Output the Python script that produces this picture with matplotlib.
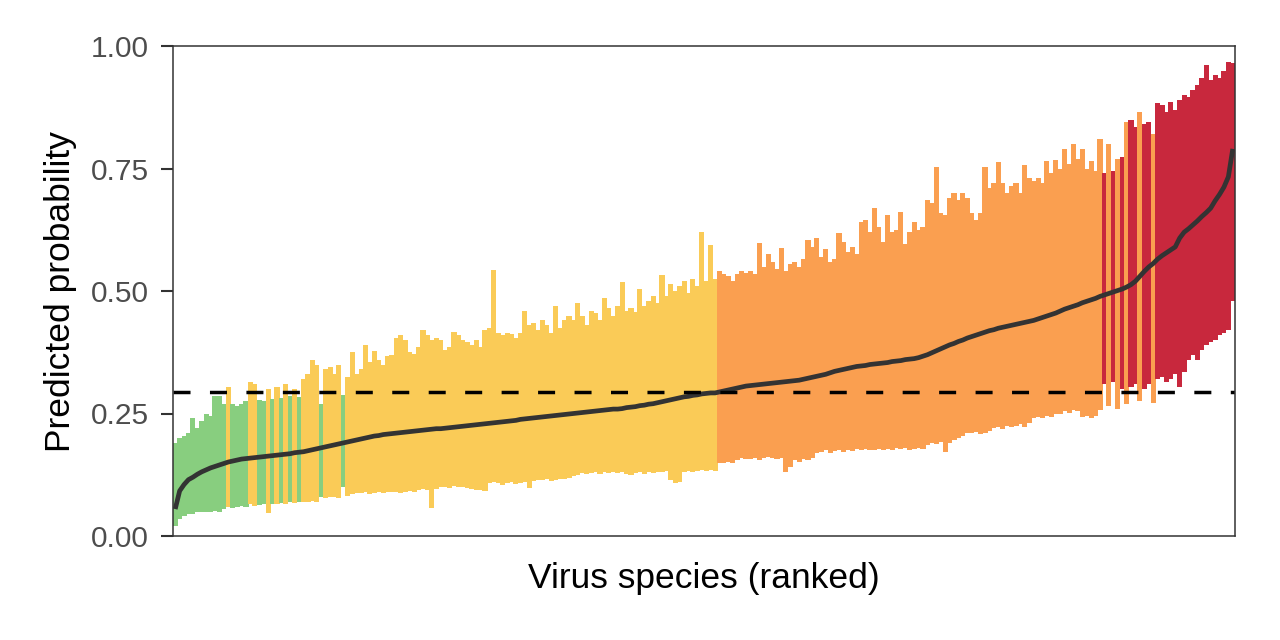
import matplotlib.pyplot as plt
import numpy as np

# ranked virus species: lower bound, median and upper bound of predicted probability
lower = [
    0.020, 0.035, 0.040, 0.045, 0.045, 0.050, 0.048, 0.050, 0.050, 0.052,
    0.048, 0.055, 0.060, 0.058, 0.060, 0.062, 0.060, 0.065, 0.062, 0.064,
    0.065, 0.047, 0.066, 0.065, 0.068, 0.066, 0.070, 0.068, 0.070, 0.070,
    0.070, 0.072, 0.070, 0.080, 0.078, 0.080, 0.080, 0.078, 0.100, 0.082,
    0.085, 0.088, 0.087, 0.090, 0.086, 0.088, 0.090, 0.087, 0.089, 0.090,
    0.090, 0.088, 0.090, 0.092, 0.090, 0.093, 0.095, 0.094, 0.058, 0.096,
    0.100, 0.100, 0.098, 0.102, 0.100, 0.100, 0.097, 0.095, 0.094, 0.093,
    0.092, 0.108, 0.110, 0.108, 0.105, 0.108, 0.110, 0.106, 0.108, 0.110,
    0.098, 0.112, 0.115, 0.114, 0.116, 0.113, 0.115, 0.117, 0.116, 0.118,
    0.122, 0.125, 0.128, 0.126, 0.128, 0.130, 0.127, 0.130, 0.128, 0.130,
    0.128, 0.130, 0.126, 0.125, 0.128, 0.130, 0.127, 0.130, 0.128, 0.131,
    0.130, 0.132, 0.115, 0.108, 0.110, 0.130, 0.133, 0.130, 0.132, 0.134,
    0.132, 0.135, 0.133, 0.150, 0.148, 0.152, 0.150, 0.155, 0.160, 0.158,
    0.158, 0.160, 0.155, 0.160, 0.162, 0.160, 0.158, 0.160, 0.131, 0.140,
    0.155, 0.152, 0.158, 0.155, 0.160, 0.170, 0.172, 0.175, 0.170, 0.173,
    0.175, 0.172, 0.176, 0.174, 0.178, 0.175, 0.177, 0.175, 0.176, 0.178,
    0.176, 0.178, 0.175, 0.180, 0.178, 0.180, 0.176, 0.178, 0.180, 0.177,
    0.185, 0.190, 0.188, 0.192, 0.171, 0.190, 0.195, 0.200, 0.205, 0.210,
    0.210, 0.212, 0.208, 0.210, 0.215, 0.220, 0.222, 0.218, 0.225, 0.222,
    0.225, 0.228, 0.222, 0.230, 0.240, 0.243, 0.240, 0.245, 0.242, 0.248,
    0.250, 0.255, 0.252, 0.258, 0.255, 0.243, 0.245, 0.240, 0.245, 0.258,
    0.310, 0.265, 0.315, 0.260, 0.300, 0.270, 0.305, 0.310, 0.275, 0.300,
    0.310, 0.272, 0.320, 0.325, 0.315, 0.320, 0.330, 0.305, 0.335, 0.360,
    0.370, 0.360, 0.380, 0.390, 0.395, 0.400, 0.410, 0.415, 0.420, 0.480,
]
median = [
    0.055, 0.092, 0.105, 0.115, 0.120, 0.126, 0.131, 0.135, 0.139, 0.142,
    0.145, 0.148, 0.151, 0.153, 0.155, 0.157, 0.158, 0.159, 0.160, 0.161,
    0.162, 0.163, 0.164, 0.165, 0.166, 0.167, 0.168, 0.170, 0.171, 0.172,
    0.174, 0.176, 0.178, 0.180, 0.182, 0.184, 0.186, 0.188, 0.190, 0.192,
    0.194, 0.196, 0.198, 0.200, 0.202, 0.204, 0.205, 0.207, 0.208, 0.209,
    0.210, 0.211, 0.212, 0.213, 0.214, 0.215, 0.216, 0.217, 0.218, 0.219,
    0.219, 0.220, 0.221, 0.222, 0.223, 0.224, 0.225, 0.226, 0.227, 0.228,
    0.229, 0.230, 0.231, 0.232, 0.233, 0.234, 0.235, 0.236, 0.238, 0.239,
    0.240, 0.241, 0.242, 0.243, 0.244, 0.245, 0.246, 0.247, 0.248, 0.249,
    0.250, 0.251, 0.252, 0.253, 0.254, 0.255, 0.256, 0.257, 0.258, 0.259,
    0.259, 0.260, 0.262, 0.263, 0.264, 0.266, 0.267, 0.269, 0.270, 0.272,
    0.274, 0.276, 0.278, 0.280, 0.282, 0.284, 0.285, 0.287, 0.288, 0.290,
    0.291, 0.292, 0.292, 0.294, 0.296, 0.298, 0.300, 0.302, 0.304, 0.306,
    0.307, 0.308, 0.309, 0.310, 0.311, 0.312, 0.313, 0.314, 0.315, 0.316,
    0.317, 0.318, 0.320, 0.322, 0.324, 0.326, 0.328, 0.330, 0.333, 0.336,
    0.338, 0.340, 0.342, 0.344, 0.346, 0.347, 0.348, 0.350, 0.351, 0.352,
    0.353, 0.354, 0.356, 0.357, 0.358, 0.360, 0.361, 0.362, 0.364, 0.367,
    0.370, 0.374, 0.378, 0.382, 0.386, 0.390, 0.393, 0.397, 0.400, 0.404,
    0.407, 0.410, 0.413, 0.416, 0.419, 0.421, 0.424, 0.426, 0.428, 0.430,
    0.432, 0.434, 0.436, 0.438, 0.440, 0.443, 0.446, 0.449, 0.452, 0.455,
    0.459, 0.463, 0.466, 0.469, 0.472, 0.476, 0.479, 0.482, 0.485, 0.489,
    0.492, 0.495, 0.498, 0.501, 0.504, 0.508, 0.513, 0.520, 0.530, 0.540,
    0.549, 0.556, 0.565, 0.572, 0.578, 0.584, 0.590, 0.608, 0.620, 0.627,
    0.635, 0.643, 0.652, 0.660, 0.669, 0.684, 0.697, 0.712, 0.733, 0.790,
]
upper = [
    0.190, 0.200, 0.205, 0.210, 0.240, 0.220, 0.235, 0.248, 0.245, 0.285,
    0.285, 0.270, 0.305, 0.270, 0.265, 0.270, 0.275, 0.315, 0.310, 0.278,
    0.275, 0.300, 0.280, 0.305, 0.282, 0.310, 0.285, 0.300, 0.284, 0.320,
    0.330, 0.360, 0.350, 0.270, 0.340, 0.345, 0.330, 0.350, 0.288, 0.325,
    0.375, 0.330, 0.340, 0.390, 0.355, 0.378, 0.360, 0.350, 0.368, 0.370,
    0.405, 0.410, 0.400, 0.375, 0.372, 0.385, 0.420, 0.410, 0.400, 0.405,
    0.400, 0.380, 0.385, 0.416, 0.410, 0.400, 0.395, 0.390, 0.400, 0.385,
    0.420, 0.425, 0.543, 0.415, 0.410, 0.415, 0.412, 0.405, 0.415, 0.460,
    0.430, 0.435, 0.420, 0.440, 0.430, 0.415, 0.470, 0.425, 0.440, 0.450,
    0.440, 0.475, 0.450, 0.430, 0.460, 0.455, 0.440, 0.486, 0.465, 0.450,
    0.470, 0.518, 0.460, 0.465, 0.458, 0.505, 0.470, 0.480, 0.490, 0.475,
    0.533, 0.490, 0.515, 0.500, 0.510, 0.520, 0.495, 0.525, 0.510, 0.620,
    0.520, 0.594, 0.525, 0.540, 0.535, 0.530, 0.520, 0.535, 0.540, 0.537,
    0.540, 0.535, 0.598, 0.550, 0.575, 0.560, 0.545, 0.588, 0.540, 0.555,
    0.560, 0.550, 0.565, 0.605, 0.590, 0.608, 0.570, 0.585, 0.560, 0.565,
    0.618, 0.600, 0.580, 0.590, 0.575, 0.640, 0.645, 0.620, 0.669, 0.630,
    0.600, 0.655, 0.620, 0.625, 0.661, 0.595, 0.620, 0.640, 0.625, 0.630,
    0.686, 0.680, 0.753, 0.660, 0.655, 0.690, 0.700, 0.685, 0.700, 0.690,
    0.660, 0.645, 0.660, 0.753, 0.710, 0.720, 0.763, 0.720, 0.700, 0.715,
    0.720, 0.700, 0.757, 0.730, 0.725, 0.730, 0.720, 0.765, 0.740, 0.767,
    0.750, 0.790, 0.760, 0.800, 0.770, 0.790, 0.750, 0.765, 0.745, 0.810,
    0.740, 0.800, 0.745, 0.770, 0.773, 0.845, 0.850, 0.835, 0.865, 0.840,
    0.845, 0.820, 0.884, 0.880, 0.865, 0.886, 0.870, 0.890, 0.900, 0.895,
    0.910, 0.920, 0.935, 0.961, 0.930, 0.940, 0.935, 0.950, 0.967, 0.965,
]
cutoff = 0.293   # dashed threshold line

lower = np.array(lower)
median = np.array(median)
upper = np.array(upper)
x = np.arange(len(median))

# colour by where the interval sits relative to the cutoff
green, yellow, orange, red = "#88CE7F", "#FACB57", "#FA9F50", "#C8283D"
cols = []
for lo, md, up in zip(lower, median, upper):
    if up < cutoff:
        cols.append(green)
    elif lo > cutoff:
        cols.append(red)
    elif md < cutoff:
        cols.append(yellow)
    else:
        cols.append(orange)

plt.rcParams['font.family'] = ['Liberation Sans', 'DejaVu Sans']

fig = plt.figure(figsize=(12.8, 6.4), dpi=100)
ax = fig.add_axes([173 / 1280, 1 - 536 / 640, (1235 - 173) / 1280, (536 - 46) / 640])

# bars a touch wider than the slot so neighbours overlap (no white seams)
ax.bar(x, upper - lower, bottom=lower, width=1.15, color=cols, linewidth=0,
       zorder=1)
ax.plot(x, median, color="#333333", linewidth=3.4, solid_capstyle="butt",
        solid_joinstyle="round", zorder=2)
ax.axhline(cutoff, color="black", linewidth=2.5, linestyle=(0, (4.9, 5.6)), zorder=3)

ax.set_xlim(-0.5, len(x) - 0.5)
ax.set_ylim(0, 1)
ax.set_xticks([])
ax.set_yticks([0, 0.25, 0.5, 0.75, 1.0])
ax.set_yticklabels(["0.00", "0.25", "0.50", "0.75", "1.00"])
ax.tick_params(axis="y", length=8.5, width=1.5, color="#333333", pad=9,
               labelsize=21.5, labelcolor="#4D4D4D")
for s in ax.spines.values():
    s.set_color("#333333")
    s.set_linewidth(1.1)
    s.set_zorder(4)

ax.set_xlabel("Virus species (ranked)", fontsize=25.5, labelpad=19)
ax.set_ylabel("Predicted probability", fontsize=25.5, labelpad=10)

fig.savefig("out.png", dpi=100)
